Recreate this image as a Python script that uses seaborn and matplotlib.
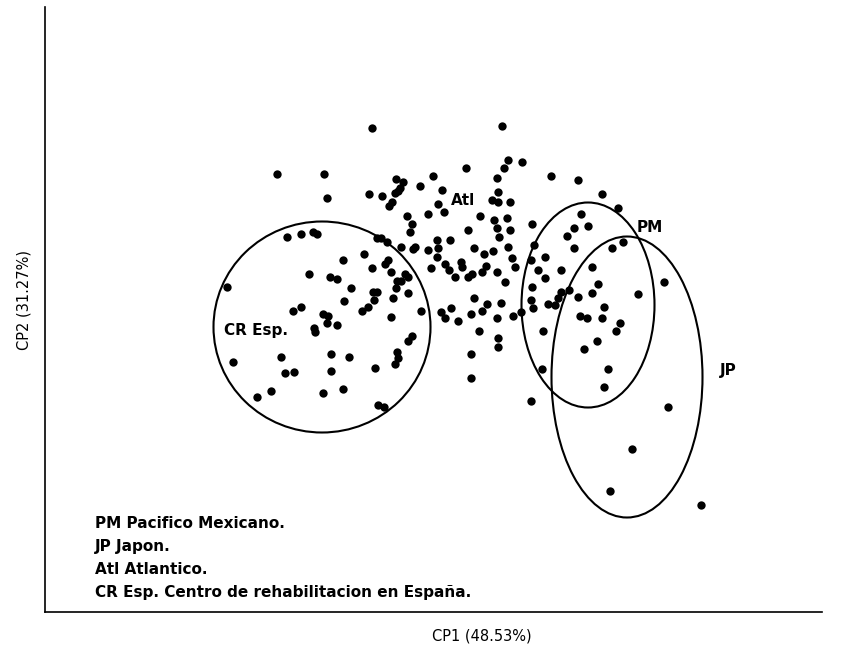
import pandas as pd
import seaborn as sns
import matplotlib.pyplot as plt
from matplotlib.patches import Ellipse

# puntuaciones de los individuos en CP1 / CP2
cp1 = [372, 277, 324, 327, 369, 287, 301, 313, 317, 377,
       502, 508, 504, 522, 466, 433, 396, 403, 420, 442, 497, 382, 395, 398, 400,
       392, 389, 438, 444, 428, 498, 492, 498, 510, 407, 412, 410, 480, 494, 507,
       497, 510, 499, 532, 468, 450, 437, 381, 387,
       551, 578, 602, 618, 581, 574, 588, 567, 623, 612, 574,
       227, 364, 343, 372, 309, 330, 337, 351, 373, 377, 344, 374, 368, 362, 301,
       293, 323, 328, 327, 337, 314, 315, 281, 331, 349, 233, 285, 294, 331, 375,
       401, 413, 415, 428, 438, 474, 484, 493, 508, 534, 388, 385, 391, 437, 445,
       449, 431, 461, 462, 455, 468, 472, 486, 482, 497, 512, 515, 531, 538, 505,
       405, 408, 397, 401, 396, 408, 393, 532, 474, 487, 482, 501, 451, 441, 445,
       458, 471, 421, 391, 497, 513, 521, 531, 533, 479, 498, 498, 543, 412, 408,
       397, 398, 395, 471, 542, 471,
       545, 561, 545, 592, 664, 598, 592, 569, 561, 558, 548, 555, 578, 638, 604,
       580, 587, 602, 620, 616, 597, 584, 608,
       257, 271, 323, 343, 378, 384, 531, 604, 668, 632, 610, 701]
cp2 = [128, 174, 174, 198, 194, 237, 234, 232, 234, 238,
       126, 160, 168, 162, 168, 176, 179, 182, 186, 190, 178, 196, 193, 191, 188,
       202, 206, 204, 212, 214, 192, 200, 202, 202, 216, 224, 232, 216, 220, 218,
       228, 230, 237, 224, 230, 240, 240, 238, 242,
       176, 180, 194, 208, 214, 228, 226, 236, 242, 248, 248,
       287, 254, 260, 268, 274, 277, 279, 288, 292, 292, 301, 300, 307, 311, 307,
       311, 314, 316, 323, 325, 328, 332, 357, 354, 357, 362, 373, 372, 371, 368,
       247, 249, 247, 250, 248, 248, 254, 251, 247, 245, 260, 264, 272, 257, 264,
       270, 268, 262, 267, 277, 277, 274, 266, 272, 272, 258, 267, 260, 270, 282,
       274, 277, 281, 281, 288, 293, 298, 287, 298, 304, 311, 303, 308, 312, 318,
       321, 314, 311, 317, 318, 316, 312, 300, 308, 331, 338, 347, 331, 336, 341,
       352, 358, 364, 354, 369, 378,
       257, 270, 278, 267, 282, 284, 293, 290, 292, 298, 304, 305, 297, 294, 307,
       316, 318, 318, 323, 331, 341, 349, 369,
       397, 391, 393, 389, 405, 407, 401, 387, 407, 449, 491, 505]

# grupos: centro y diametros de las elipses
grupos = ['CR Esp.', 'PM', 'JP']
centro_x = [322, 588, 627]
centro_y = [327, 305, 377]
ancho = [217, 133, 151]
alto = [211, 205, 281]

etiquetas = ['Atl', 'PM', 'JP', 'CR Esp.']
etiq_x = [463, 650, 728, 256]
etiq_y = [200, 227, 370, 330]

leyenda = ['PM Pacifico Mexicano.', 'JP Japon.', 'Atl Atlantico.',
           'CR Esp. Centro de rehabilitacion en España.']

df = pd.DataFrame({'CP1': cp1, 'CP2': cp2})

sns.set_theme(style="white")
plt.rcParams['font.family'] = ['DejaVu Sans']
plt.rcParams['text.color'] = 'black'

fig = plt.figure(figsize=(8.5, 6.52), dpi=100)
ax = fig.add_axes([45 / 850, 40 / 652, 777 / 850, 605 / 652])

sns.scatterplot(data=df, x='CP1', y='CP2', color='black', s=36, linewidth=0, ax=ax)

for cx, cy, w, h in zip(centro_x, centro_y, ancho, alto):
    ax.add_patch(Ellipse((cx, cy), w, h, fill=False, edgecolor='black', lw=1.5))

for t, x, y in zip(etiquetas, etiq_x, etiq_y):
    ax.text(x, y, t, ha='center', va='center', fontsize=11, fontweight='bold', color='black')

for i, t in enumerate(leyenda):
    ax.text(95, 523 + i * 23, t, ha='left', va='center', fontsize=11,
            fontweight='bold', color='black')

ax.set_xlim(45, 822)
ax.set_ylim(612, 7)
ax.set_xticks([])
ax.set_yticks([])
ax.set_xlabel('')
ax.set_ylabel('')
sns.despine(ax=ax)
for s in ['left', 'bottom']:
    ax.spines[s].set_color('black')
    ax.spines[s].set_linewidth(1.2)

fig.text(482 / 850, 1 - 636 / 652, 'CP1 (48.53%)', ha='center', va='center',
         fontsize=10.5, color='black')
fig.text(24 / 850, 1 - 300 / 652, 'CP2 (31.27%)', ha='center', va='center',
         fontsize=10.5, rotation=90, color='black')

fig.savefig('out.png', dpi=100)
